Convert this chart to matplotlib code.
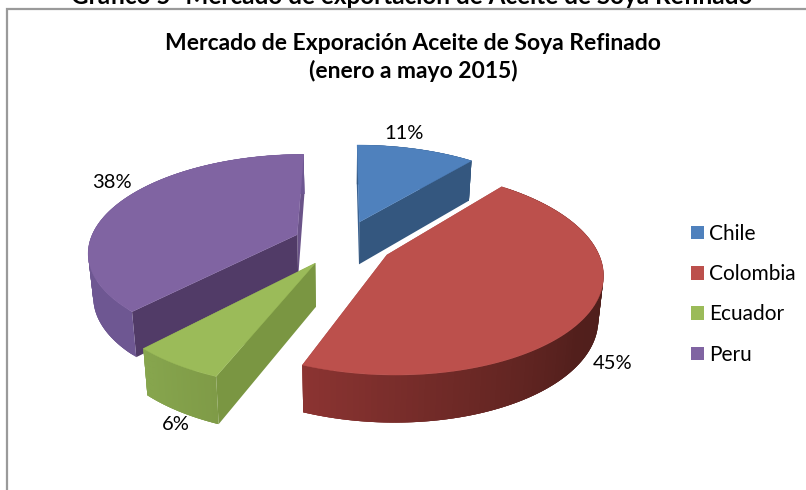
import numpy as np
import matplotlib
matplotlib.use('Agg')
import matplotlib.pyplot as plt
from matplotlib.collections import PolyCollection
from matplotlib.colors import LinearSegmentedColormap
from matplotlib.patches import Patch

heading = 'Gráfico 5- Mercado de exportación de Aceite de Soya Refinado'
title = 'Mercado de Exporación Aceite de Soya Refinado\n(enero a mayo 2015)'
countries = ['Chile', 'Colombia', 'Ecuador', 'Peru']
shares = [11, 45, 6, 38]

top_colors = ['#4f81bd', '#bc504c', '#9bbb59', '#8064a2']
# colours of the cut faces, (first edge, second edge)
cut_colors = [('#3a6190', '#34577f'), ('#8c3432', '#8c3432'),
              ('#7a9642', '#7a9642'), ('#513b67', '#6a5388')]
wall_colors = [['#34577f', '#34577f'],
               ['#4e1f1b', '#521f1c', '#6d2926', '#8c3432'],
               ['#7f9b47', '#87a64e'],
               ['#6e5792', '#6e5792']]
label_pos = [(404, 133), (613, 363), (176, 424), (112, 182)]

# the pie lies on a tilted plate, seen in perspective (all in picture pixels)
CX, CY = 343, 243
FX, FY = 208, 96
PERSP = 0.164
EXPLODE = 0.24
DEPTH = 43


def project(px, py):
    s = 1 / (1 + PERSP * py)
    return CX + FX * px * s, CY - FY * py * s, s


def drop(x, y, s):
    # same point on the lower face of the slice
    return CX + (x - CX) * 0.98, y + DEPTH * np.sqrt(s)


plt.rcParams['font.family'] = ['Lato', 'DejaVu Sans']
fig = plt.figure(figsize=(8.06, 4.9), dpi=100)
ax = fig.add_axes([0, 0, 1, 1])
ax.set_xlim(0, 806)
ax.set_ylim(490, 0)
ax.axis('off')

ax.plot([7, 7, 806], [490, 9.5, 9.5], color='#9a9a9a', lw=1.6, solid_joinstyle='miter')
ax.text(412, 4, heading, ha='center', va='baseline', fontsize=17.5, fontweight='bold', color='black')
ax.text(413, 57.5, title, ha='center', va='center', fontsize=16.5, fontweight='bold', color='black', linespacing=1.35)

edges = np.cumsum([0] + shares) / sum(shares) * 2 * np.pi

# back slices first, Ecuador sits over the foot of Peru
for i in [0, 3, 1, 2]:
    a0, a1 = edges[i], edges[i + 1]
    mid = (a0 + a1) / 2
    ox, oy = EXPLODE * np.sin(mid), EXPLODE * np.cos(mid)
    t = np.linspace(a0, a1, 121)
    xs, ys, ss = project(ox + np.sin(t), oy + np.cos(t))
    xa, ya, sa = project(ox, oy)
    xb, yb = drop(xs, ys, ss)
    xab, yab = drop(xa, ya, sa)

    # cut faces, the one nearer the viewer last
    faces = sorted([(0, cut_colors[i][0]), (-1, cut_colors[i][1])], key=lambda f: ys[f[0]])
    for k, c in faces:
        ax.fill([xa, xs[k], xb[k], xab], [ya, ys[k], yb[k], yab], color=c, lw=0)

    # outer wall, in strips that overlap so no seams show
    cmap = LinearSegmentedColormap.from_list('wall', wall_colors[i])
    if i == 1:
        shade = np.clip((t[:-1] - np.pi / 2) / (a1 - np.pi / 2), 0, 1)
    else:
        shade = (t[:-1] - a0) / (a1 - a0)
    strips = []
    for j in range(len(t) - 1):
        n = min(j + 3, len(t) - 1)
        strips.append([(xs[j], ys[j]), (xs[n], ys[n]), (xb[n], yb[n]), (xb[j], yb[j])])
    ax.add_collection(PolyCollection(strips, facecolors=cmap(shade), edgecolors='none'))

    # top face
    ax.fill(np.r_[xa, xs], np.r_[ya, ys], color=top_colors[i], lw=0.3)

for share, (lx, ly) in zip(shares, label_pos):
    ax.text(lx, ly, f'{share}%', ha='center', va='center', fontsize=14.5, color='black')

handles = [Patch(facecolor=c, edgecolor='none', label=n) for c, n in zip(top_colors, countries)]
ax.legend(handles=handles, loc='upper left', bbox_to_anchor=(691, 224), bbox_transform=ax.transData,
          frameon=False, fontsize=15, handlelength=0.62, handleheight=0.62, handletextpad=0.24,
          labelspacing=0.97, borderpad=0, borderaxespad=0, labelcolor='black')

fig.savefig('out.png', dpi=100)
